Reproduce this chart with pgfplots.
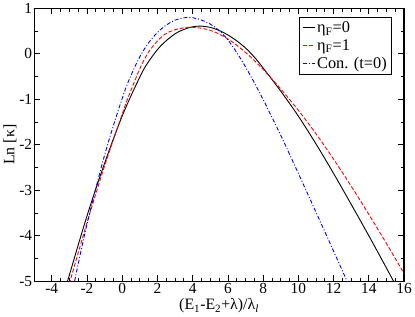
\documentclass[border=0pt]{standalone}
\usepackage{fontspec}
\setmainfont{Liberation Serif}
\usepackage{pgfplots}
\pgfplotsset{compat=1.18}
\begin{document}
\begin{tikzpicture}
\begin{axis}[
  width=373pt, height=275pt, scale only axis,
  xmin=-5, xmax=16, ymin=-5, ymax=1,
  xtick={-4,-2,...,16}, ytick={-5,-4,...,1},
  minor x tick num=3, minor y tick num=1,
  tick align=inside,
  axis line style={line width=1.1pt},
  major tick length=6pt, minor tick length=3.5pt,
  tick style={black, line width=0.7pt},
  /pgf/number format/assume math mode=true,
  ticklabel style={font=\fontsize{15.5}{17}\selectfont},
  xticklabel style={yshift=1pt},
  yticklabel style={xshift=1.5pt},
  xlabel={(E\textsubscript{1}-E\textsubscript{2}+λ)/λ\textsubscript{\textit{l}}},
  ylabel={Ln [κ]},
  label style={font=\fontsize{16}{17}\selectfont},
  xlabel style={yshift=2pt},
  ylabel style={yshift=-4pt},
  legend cell align=left,
  legend style={at={(0.968,0.967)}, anchor=north east, draw=black, line width=0.8pt,
    font=\fontsize{16.5}{18}\selectfont, inner xsep=3pt, inner ysep=2pt, row sep=1.5pt},
  legend image code/.code={\draw[#1] (0cm,0cm) -- (0.42cm,0cm);},
]
\addplot[black, line width=0.9pt, smooth, tension=0.55] coordinates {
(-3.1,-5.0) (-3,-4.87) (-2,-3.57) (-1,-2.41) (0,-1.37) (1,-0.51) (1.5,-0.17) (2.2,0.18) (3,0.44) (3.6,0.55) (4,0.595) (4.44,0.61)
(5,0.582) (5.5,0.515) (6,0.415) (6.5,0.287) (7,0.13) (7.5,-0.07) (8,-0.31) (9,-0.82) (10,-1.37) (11,-1.98) (12,-2.63) (13,-3.31) (14,-4.0) (15,-4.71) (15.4,-5.0)
};
\addlegendentry{η\textsubscript{F}=0}
\addplot[red, line width=0.9pt, dash pattern=on 4pt off 2pt, smooth, tension=0.55] coordinates {
(-3,-5.06) (-2,-3.72) (-1,-2.47) (0,-1.33) (0.3,-1.0) (1.0,-0.33) (1.44,0) (1.75,0.17) (2.2,0.36) (2.6,0.47) (3.2,0.55) (3.97,0.585)
(5,0.518) (6,0.328) (7,0.033) (8,-0.342) (9,-0.772) (10,-1.242) (11,-1.757) (12,-2.317) (13,-2.91) (14,-3.53) (15,-4.17) (16,-4.83) (16.1,-4.9)
};
\addlegendentry{η\textsubscript{F}=1}
\addplot[blue, line width=0.9pt, dash pattern=on 4pt off 2pt on 1pt off 2pt, smooth, tension=0.55] coordinates {
(-2.7,-5.0) (-2,-3.755) (-1,-2.23) (0,-0.98) (0.5,-0.4765) (1,-0.0665) (1.5,0.2435) (2,0.4685) (2.5,0.631) (3,0.741) (3.69,0.80)
(4.3,0.7695) (5,0.654) (5.5,0.514) (6,0.3065) (6.5,0.0315) (7,-0.286) (7.5,-0.6335) (8,-1.0035) (9,-1.79) (10,-2.63) (11,-3.48) (12,-4.34) (12.8,-5.03)
};
\addlegendentry{Con. (t=0)}
\end{axis}
\end{tikzpicture}
\end{document}
